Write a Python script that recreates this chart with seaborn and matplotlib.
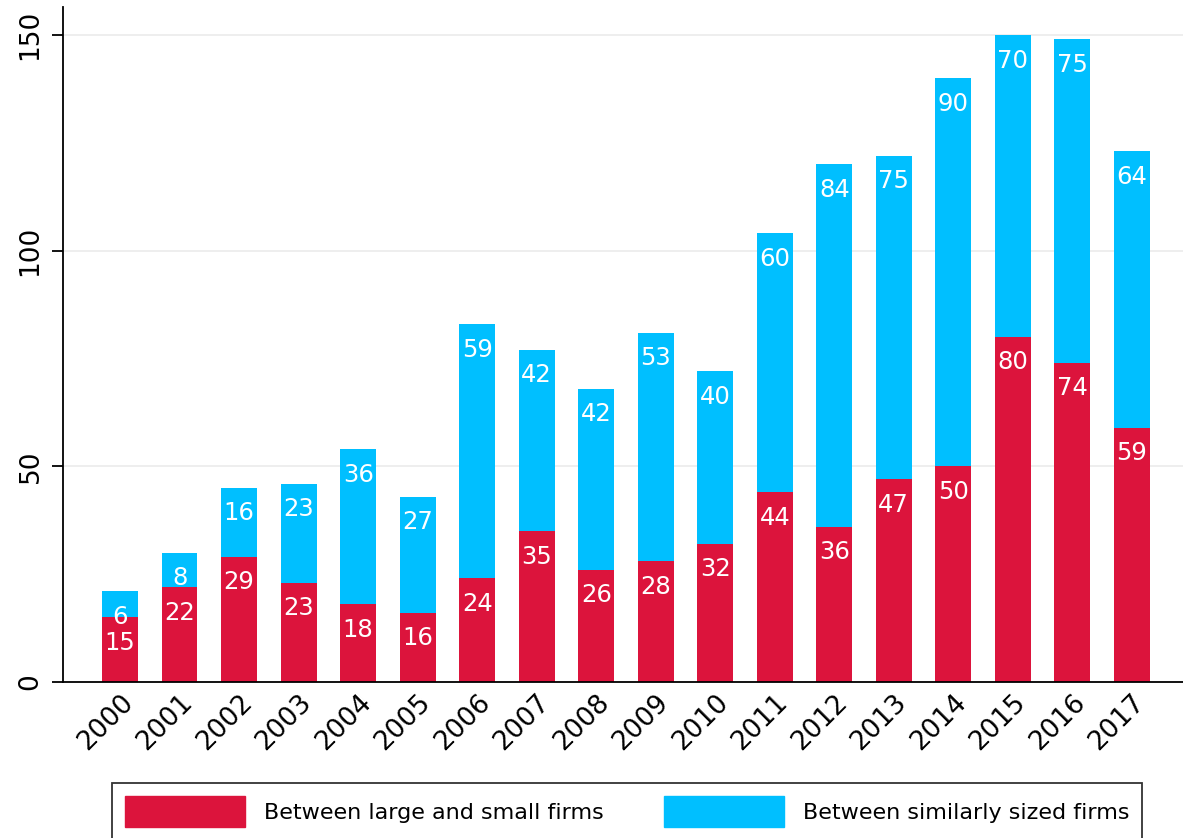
import seaborn as sns
import matplotlib.pyplot as plt
import pandas as pd

# dados
anos = [str(a) for a in range(2000, 2018)]
grandes_pequenas = [15, 22, 29, 23, 18, 16, 24, 35, 26, 28, 32, 44, 36, 47, 50, 80, 74, 59]
tamanho_similar = [6, 8, 16, 23, 36, 27, 59, 42, 42, 53, 40, 60, 84, 75, 90, 70, 75, 64]
legenda = ["Between large and small firms", "Between similarly sized firms"]

vermelho = "#DC143C"
azul = "#00BFFF"

df = pd.DataFrame({"Ano": anos, "A": grandes_pequenas, "B": tamanho_similar})
df["Total"] = df["A"] + df["B"]

sns.set_style("white")
plt.rcParams["font.family"] = ["DejaVu Sans"]
plt.rcParams["text.color"] = "black"
plt.rcParams["xtick.color"] = "black"
plt.rcParams["ytick.color"] = "black"

fig = plt.figure(figsize=(11.83, 8.38), dpi=100)
ax = fig.add_axes([63 / 1183, 1 - 682 / 838, 1 - 63 / 1183, (682 - 7) / 838])

# barras empilhadas: total (azul) por trás, parte vermelha na frente
sns.barplot(x="Ano", y="Total", data=df, color=azul, width=0.6, saturation=1,
            linewidth=0, ax=ax)
sns.barplot(x="Ano", y="A", data=df, color=vermelho, width=0.6, saturation=1,
            linewidth=0, ax=ax)

azul_barras = ax.containers[0]
verm_barras = ax.containers[1]
ax.bar_label(azul_barras, labels=[str(v) for v in tamanho_similar], padding=-27,
             color="white", fontsize=17.5)
ax.bar_label(verm_barras, labels=[str(v) for v in grandes_pequenas], padding=-27,
             color="white", fontsize=17.5)

ax.set_xlim(-0.96, 17.86)
ax.set_ylim(0, 156.5)
ax.set_yticks([0, 50, 100, 150])
ax.yaxis.grid(True, color="#ebebeb", linewidth=1.2)
ax.set_axisbelow(True)
ax.set_xlabel("")
ax.set_ylabel("")

for s in ["top", "right"]:
    ax.spines[s].set_visible(False)
for s in ["left", "bottom"]:
    ax.spines[s].set_color("black")
    ax.spines[s].set_linewidth(1.3)

ax.tick_params(axis="y", left=True, length=8, width=1.3, labelsize=19, pad=6)
ax.tick_params(axis="x", bottom=False, labelsize=19, pad=2)
plt.setp(ax.get_yticklabels(), rotation=90, va="center")
plt.setp(ax.get_xticklabels(), rotation=45, ha="right", rotation_mode="anchor")

handles = [plt.Rectangle((0, 0), 1, 1, color=vermelho),
           plt.Rectangle((0, 0), 1, 1, color=azul)]
leg = fig.legend(handles, legenda, loc="upper center", bbox_to_anchor=(627 / 1183, 1 - 783 / 838),
                 ncol=2, fontsize=16, frameon=True, fancybox=False, edgecolor="black",
                 handlelength=5.4, handleheight=1.75, handletextpad=0.85, columnspacing=2.7,
                 borderpad=0.6, borderaxespad=0)
leg.get_frame().set_linewidth(1.3)

fig.savefig("out.png", dpi=100)
